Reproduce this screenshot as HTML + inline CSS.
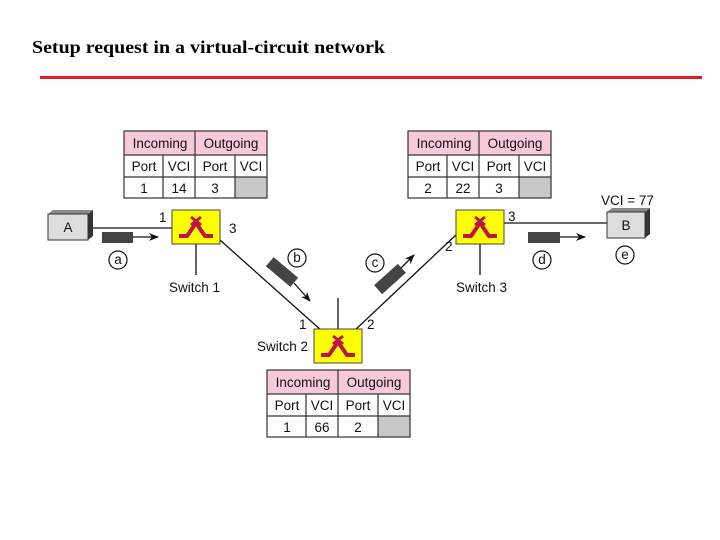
<!DOCTYPE html>
<html><head><meta charset="utf-8"><style>
body{margin:0;width:720px;height:540px;background:#fff;overflow:hidden}
svg{display:block}
.t{font-family:"Liberation Sans",sans-serif;font-size:13.5px;fill:#111}
</style></head><body>
<svg width="720" height="540" viewBox="0 0 720 540">
<defs>
<marker id="ar" markerWidth="10" markerHeight="8" refX="9" refY="4" orient="auto" markerUnits="userSpaceOnUse"><path d="M0,0 L10,4 L0,8 L3,4 z" fill="#111"/></marker>
<g id="sw"><rect x="0" y="0" width="48" height="34" fill="#ffff00" stroke="#444" stroke-width="1"/>
<path d="M7,26 L15,26 L24,13 L33,26 L41,26" fill="none" stroke="#c0134a" stroke-width="4"/>
<path d="M19,7 L29,15 M29,7 L19,15" stroke="#c0134a" stroke-width="3"/></g>
</defs>
<text x="32" y="53" font-family="Liberation Serif,serif" font-weight="bold" font-size="18" textLength="353" lengthAdjust="spacingAndGlyphs">Setup request in a virtual-circuit network</text>
<rect x="40" y="76" width="662" height="3" fill="#e02020"/>

<g stroke="#111" stroke-width="1.3" fill="none">
<line x1="88" y1="228" x2="172" y2="228"/>
<line x1="504" y1="223" x2="607" y2="223"/>
<line x1="196" y1="244" x2="196" y2="275"/>
<line x1="480" y1="244" x2="480" y2="275"/>
<line x1="338" y1="298" x2="338" y2="329"/>
<line x1="220" y1="240" x2="322" y2="331"/>
<line x1="354" y1="331" x2="458" y2="233"/>
</g>

<polygon points="88,214 93,210 93,236 88,240" fill="#333"/>
<polygon points="48,214 53,210 93,210 88,214" fill="#888"/>
<rect x="48" y="214" width="40" height="26" fill="#ddd" stroke="#333"/>
<text class="t" x="68" y="232" text-anchor="middle">A</text>
<polygon points="645,212 650,208 650,234 645,238" fill="#333"/>
<polygon points="607,212 612,208 650,208 645,212" fill="#888"/>
<rect x="607" y="212" width="38" height="26" fill="#ddd" stroke="#333"/>
<text class="t" x="626" y="230" text-anchor="middle">B</text>
<text class="t" x="601" y="205">VCI = 77</text>

<use href="#sw" x="172" y="210"/>
<use href="#sw" x="314" y="329"/>
<use href="#sw" x="456" y="210"/>
<text class="t" x="159" y="222">1</text>
<text class="t" x="229" y="233">3</text>
<text class="t" x="169" y="292">Switch 1</text>
<text class="t" x="299" y="329">1</text>
<text class="t" x="367" y="329">2</text>
<text class="t" x="257" y="351">Switch 2</text>
<text class="t" x="508" y="221">3</text>
<text class="t" x="445" y="251">2</text>
<text class="t" x="456" y="292">Switch 3</text>

<rect x="102" y="232" width="31" height="11" fill="#444"/>
<line x1="133" y1="237" x2="158" y2="237" stroke="#111" stroke-width="1.3" marker-end="url(#ar)"/>
<rect x="528" y="232" width="32" height="11" fill="#444"/>
<line x1="560" y1="237" x2="585" y2="237" stroke="#111" stroke-width="1.3" marker-end="url(#ar)"/>
<g transform="translate(282,272) rotate(40)"><rect x="-16" y="-6" width="32" height="12" fill="#444"/></g>
<line x1="294" y1="283" x2="310" y2="301" stroke="#111" stroke-width="1.3" marker-end="url(#ar)"/>
<g transform="translate(390,279) rotate(-42)"><rect x="-16" y="-6" width="32" height="12" fill="#444"/></g>
<line x1="401" y1="268" x2="414" y2="255" stroke="#111" stroke-width="1.3" marker-end="url(#ar)"/>

<g fill="#fff" stroke="#111" stroke-width="1.2">
<circle cx="118" cy="260" r="9"/><circle cx="297" cy="258" r="9"/>
<circle cx="375" cy="263" r="9"/><circle cx="542" cy="260" r="9"/>
<circle cx="625" cy="255" r="9"/></g>
<g class="t" text-anchor="middle">
<text x="118" y="264">a</text><text x="297" y="262">b</text>
<text x="375" y="267">c</text><text x="542" y="264">d</text>
<text x="625" y="259">e</text></g>

<g>
<rect x="124" y="131" width="143" height="24" fill="#f8c8dc"/>
<rect x="235" y="177" width="32" height="21" fill="#c8c8c8"/>
<g stroke="#333" stroke-width="1.2" fill="none">
<rect x="124" y="131" width="143" height="67"/>
<line x1="124" y1="155" x2="267" y2="155"/><line x1="124" y1="177" x2="267" y2="177"/>
<line x1="195" y1="131" x2="195" y2="198"/><line x1="163" y1="155" x2="163" y2="198"/><line x1="235" y1="155" x2="235" y2="198"/>
</g>
<g class="t" text-anchor="middle">
<text x="160" y="148">Incoming</text><text x="231" y="148">Outgoing</text>
<text x="144" y="171">Port</text><text x="179" y="171">VCI</text><text x="215" y="171">Port</text><text x="251" y="171">VCI</text>
<text x="144" y="193">1</text><text x="179" y="193">14</text><text x="215" y="193">3</text>
</g></g>
<g transform="translate(284,0)">
<rect x="124" y="131" width="143" height="24" fill="#f8c8dc"/>
<rect x="235" y="177" width="32" height="21" fill="#c8c8c8"/>
<g stroke="#333" stroke-width="1.2" fill="none">
<rect x="124" y="131" width="143" height="67"/>
<line x1="124" y1="155" x2="267" y2="155"/><line x1="124" y1="177" x2="267" y2="177"/>
<line x1="195" y1="131" x2="195" y2="198"/><line x1="163" y1="155" x2="163" y2="198"/><line x1="235" y1="155" x2="235" y2="198"/>
</g>
<g class="t" text-anchor="middle">
<text x="160" y="148">Incoming</text><text x="231" y="148">Outgoing</text>
<text x="144" y="171">Port</text><text x="179" y="171">VCI</text><text x="215" y="171">Port</text><text x="251" y="171">VCI</text>
<text x="144" y="193">2</text><text x="179" y="193">22</text><text x="215" y="193">3</text>
</g></g>
<g transform="translate(143,239)">
<rect x="124" y="131" width="143" height="24" fill="#f8c8dc"/>
<rect x="235" y="177" width="32" height="21" fill="#c8c8c8"/>
<g stroke="#333" stroke-width="1.2" fill="none">
<rect x="124" y="131" width="143" height="67"/>
<line x1="124" y1="155" x2="267" y2="155"/><line x1="124" y1="177" x2="267" y2="177"/>
<line x1="195" y1="131" x2="195" y2="198"/><line x1="163" y1="155" x2="163" y2="198"/><line x1="235" y1="155" x2="235" y2="198"/>
</g>
<g class="t" text-anchor="middle">
<text x="160" y="148">Incoming</text><text x="231" y="148">Outgoing</text>
<text x="144" y="171">Port</text><text x="179" y="171">VCI</text><text x="215" y="171">Port</text><text x="251" y="171">VCI</text>
<text x="144" y="193">1</text><text x="179" y="193">66</text><text x="215" y="193">2</text>
</g></g>
</svg>
</body></html>
